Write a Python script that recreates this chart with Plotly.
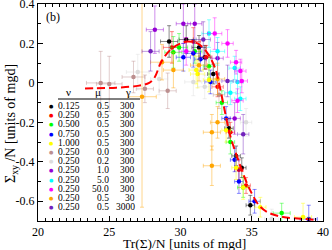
import plotly.graph_objects as go

# ---------------- data ----------------
nu_labels = ["0.125", "0.250", "0.500", "0.750", "1.000", "0.250", "0.250", "0.250", "0.250", "0.250", "0.250", "0.250"]
mu_labels = ["0.5", "0.5", "0.5", "0.5", "0.5", "0.0", "0.2", "1.0", "5.0", "50.0", "0.5", "0.5"]
gamma_labels = ["300", "300", "300", "300", "300", "300", "300", "300", "300", "300", "30", "3000"]
colors = ["#000000", "#ff0000", "#00ff00", "#0000ff", "#ffff00", "#bc8f8f",
          "#dcdcdc", "#9400d3", "#00ffff", "#ff00ff", "#ffa500", "#7221bc"]

s0_x = [29.2, 30.4, 31.3, 31.7, 32.3, 33.4, 33.9, 34.3, 34.9]
s0_y = [0.21, 0.22, 0.18, 0.13, 0.045, -0.23, -0.37, -0.43, -0.62]
s0_ex = [0.6, 0.5, 0.5, 0.4, 0.4, 0.3, 0.3, 0.3, 0.3]
s0_ey = [0.08, 0.07, 0.06, 0.06, 0.05, 0.05, 0.05, 0.05, 0.05]

s1_x = [29.4, 30.9, 31.8, 32.6, 33.5, 34.1, 34.6]
s1_y = [0.18, 0.21, 0.13, -0.02, -0.25, -0.44, -0.52]
s1_ex = [0.6, 0.5, 0.4, 0.4, 0.3, 0.3, 0.3]
s1_ey = [0.08, 0.07, 0.06, 0.05, 0.05, 0.05, 0.04]

s2_x = [29.5, 29.9, 31.0, 32.0, 32.9, 33.5, 34.4, 37.1]
s2_y = [0.155, 0.18, 0.16, 0.085, -0.10, -0.30, -0.53, -0.66]
s2_ex = [0.6, 0.6, 0.5, 0.4, 0.4, 0.3, 0.4, 0.6]
s2_ey = [0.08, 0.07, 0.06, 0.06, 0.06, 0.06, 0.05, 0.05]

s3_x = [30.2, 30.9, 31.4, 32.1, 33.2, 33.8, 34.1, 35.2, 39.0]
s3_y = [0.13, 0.15, 0.12, 0.005, -0.18, -0.39, -0.50, -0.60, -0.69]
s3_ex = [0.5, 0.5, 0.4, 0.4, 0.3, 0.3, 0.3, 0.4, 0.6]
s3_ey = [0.07, 0.07, 0.06, 0.06, 0.06, 0.06, 0.06, 0.06, 0.07]

s4_x = [31.1, 31.2, 32.0, 33.2, 33.9, 34.4, 35.6, 38.6]
s4_y = [0.065, 0.045, 0.015, -0.24, -0.43, -0.53, -0.63, -0.68]
s4_ex = [0.5, 0.5, 0.4, 0.3, 0.3, 0.3, 0.4, 0.6]
s4_ey = [0.07, 0.07, 0.06, 0.06, 0.06, 0.06, 0.05, 0.07]

s5_x = [24.4, 25.0, 26.7, 27.5, 29.1, 32.7]
s5_y = [0.0, -0.005, 0.03, -0.03, -0.04, -0.06]
s5_ex = [1.0, 0.9, 0.8, 0.6, 0.6, 0.4]
s5_ey = [0.16, 0.14, 0.08, 0.07, 0.09, 0.07]

s6_x = [27.0, 28.5, 30.9, 31.7, 34.6, 36.4]
s6_y = [0.055, 0.02, 0.005, -0.02, -0.20, -0.69]
s6_ex = [0.8, 0.6, 0.6, 0.5, 0.4, 0.5]
s6_ey = [0.09, 0.08, 0.07, 0.06, 0.07, 0.05]

s7_x = [28.2, 30.2, 31.0, 32.6, 33.8]
s7_y = [0.27, 0.30, 0.30, 0.125, -0.18]
s7_ex = [0.6, 0.5, 0.5, 0.4, 0.4]
s7_ey = [0.12, 0.10, 0.10, 0.08, 0.08]

s8_x = [32.0, 32.6, 33.8, 34.0, 33.5, 34.2]
s8_y = [0.25, 0.16, 0.075, 0.005, -0.05, -0.08]
s8_ex = [0.5, 0.5, 0.4, 0.4, 0.4, 0.4]
s8_ey = [0.07, 0.07, 0.06, 0.06, 0.06, 0.06]

s9_x = [30.4, 32.4, 33.3, 33.9, 34.2, 34.3, 34.0]
s9_y = [0.16, 0.25, 0.20, 0.105, 0.06, 0.01, -0.09]
s9_ex = [0.5, 0.5, 0.4, 0.4, 0.4, 0.4, 0.4]
s9_ey = [0.07, 0.08, 0.07, 0.06, 0.06, 0.06, 0.06]

s10_x = [27.3, 28.7, 29.5, 31.3, 32.6, 32.6, 32.2, 32.2]
s10_y = [-0.07, 0.105, 0.065, 0.09, 0.02, -0.20, -0.25, -0.42]
s10_ex = [1.0, 0.8, 0.7, 0.6, 0.5, 0.5, 0.6, 0.6]
s10_ey = [0.56, 0.09, 0.09, 0.08, 0.08, 0.08, 0.09, 0.10]

s11_x = [27.9, 31.6, 33.3, 34.4]
s11_y = [0.16, 0.22, 0.01, -0.26]
s11_ex = [0.6, 0.5, 0.4, 0.4]
s11_ey = [0.10, 0.09, 0.08, 0.10]

fit_x = [23.3, 24.0, 25.5, 27.0, 27.8, 28.2, 28.6, 29.0, 29.5, 30.0, 30.5, 31.2, 31.9,
         32.4, 32.7, 33.1, 33.5, 34.0, 34.5, 35.0, 35.5, 36.1, 37.2, 38.4, 39.6]
fit_y = [-0.028, -0.027, -0.024, -0.015, 0.0, 0.03, 0.10, 0.145, 0.18, 0.20, 0.21, 0.20, 0.15,
         0.08, 0.0, -0.14, -0.27, -0.38, -0.48, -0.56, -0.62, -0.655, -0.68, -0.688, -0.695]

series = [
    (s0_x, s0_y, s0_ex, s0_ey), (s1_x, s1_y, s1_ex, s1_ey), (s2_x, s2_y, s2_ex, s2_ey),
    (s3_x, s3_y, s3_ex, s3_ey), (s4_x, s4_y, s4_ex, s4_ey), (s5_x, s5_y, s5_ex, s5_ey),
    (s6_x, s6_y, s6_ex, s6_ey), (s7_x, s7_y, s7_ex, s7_ey), (s8_x, s8_y, s8_ex, s8_ey),
    (s9_x, s9_y, s9_ex, s9_ey), (s10_x, s10_y, s10_ex, s10_ey), (s11_x, s11_y, s11_ex, s11_ey),
]


def rgba(hexc, a):
    h = hexc.lstrip("#")
    r, g, b = int(h[0:2], 16), int(h[2:4], 16), int(h[4:6], 16)
    return f"rgba({r},{g},{b},{a})"


fig = go.Figure()
for i, (sx, sy, ex, ey) in enumerate(series):
    c = colors[i]
    fig.add_trace(go.Scatter(
        x=sx, y=sy, mode="markers",
        name=f"{nu_labels[i]} {mu_labels[i]} {gamma_labels[i]}",
        marker=dict(color=c, size=4.5),
        error_x=dict(type="data", array=ex, color=rgba(c, 0.45), thickness=1, width=2),
        error_y=dict(type="data", array=ey, color=rgba(c, 0.45), thickness=1, width=2),
        showlegend=False,
    ))

fig.add_trace(go.Scatter(
    x=fit_x, y=fit_y, mode="lines", line=dict(color="#ff0000", width=2, dash="8px,4px"),
    line_shape="spline", showlegend=False,
))

# ---------------- layout ----------------
L, R, T, B = 38, 323, 4, 221
W, H = 332, 250


def px(xp):
    return (xp - L) / (R - L)


def py(yp):
    return (B - yp) / (B - T)


font = "Liberation Serif, Times New Roman, serif"
ann = []
# legend table header
for txt, xc in [("ν", 68), ("μ", 98), ("γ", 128)]:
    ann.append(dict(text=txt, x=px(xc), y=py(92), xref="paper", yref="paper",
                    showarrow=False, xanchor="center", yanchor="middle",
                    font=dict(family=font, size=11, color="black")))
for i in range(len(colors)):
    yy = py(106 + 9.2 * i)
    ann.append(dict(text="●", x=px(51), y=yy, xref="paper", yref="paper", showarrow=False,
                    xanchor="center", yanchor="middle", font=dict(family="DejaVu Sans", size=5, color=colors[i])))
    for txt, xr in [(nu_labels[i], 82), (mu_labels[i], 111), (gamma_labels[i], 137)]:
        ann.append(dict(text=txt, x=px(xr), y=yy, xref="paper", yref="paper", showarrow=False,
                        xanchor="right", yanchor="middle", font=dict(family=font, size=9.5, color="black")))

ann.append(dict(text="(b)", x=px(44), y=py(17), xref="paper", yref="paper", showarrow=False,
                xanchor="left", yanchor="middle", font=dict(family=font, size=12, color="black")))
ann.append(dict(text="Tr(Σ)/N [units of mgd]", x=px(184), y=py(243), xref="paper", yref="paper",
                showarrow=False, xanchor="center", yanchor="middle",
                font=dict(family=font, size=13.5, color="black")))
ann.append(dict(text="Σ<sub>xy</sub> /N [units of mgd]", x=px(11), y=py(124), xref="paper", yref="paper",
                showarrow=False, xanchor="center", yanchor="middle", textangle=-90,
                font=dict(family=font, size=14, color="black")))

shapes = [dict(type="line", xref="paper", yref="paper", x0=px(58), x1=px(140), y0=py(99), y1=py(99),
               line=dict(color="black", width=1))]

axis_common = dict(showline=True, linecolor="black", linewidth=1, mirror="ticks",
                   ticks="inside", ticklen=5, tickcolor="black", showgrid=False, zeroline=False,
                   automargin=False, ticklabeloverflow="allow",
                   tickfont=dict(family=font, size=12, color="black"))

fig.update_layout(
    width=W, height=H, margin=dict(l=L, r=W - R, t=T, b=H - B),
    plot_bgcolor="white", paper_bgcolor="white",
    xaxis=dict(range=[20, 40], tickvals=[20, 25, 30, 35, 40],
               minor=dict(dtick=0.5, ticks="inside", ticklen=3, tickcolor="black"), **axis_common),
    yaxis=dict(range=[-0.7, 0.4], tickvals=[-0.6, -0.4, -0.2, 0, 0.2, 0.4],
               ticktext=["-0.6", "-0.4", "-0.2", "0", "0.2", "0.4"],
               minor=dict(dtick=0.1, ticks="inside", ticklen=3, tickcolor="black"), **axis_common),
    annotations=ann, shapes=shapes, showlegend=False,
)

fig.write_html("out.html", config={"displayModeBar": False},
               post_script="document.body.style.margin='0';document.body.style.padding='0';"
                           "document.documentElement.style.overflow='hidden';")
